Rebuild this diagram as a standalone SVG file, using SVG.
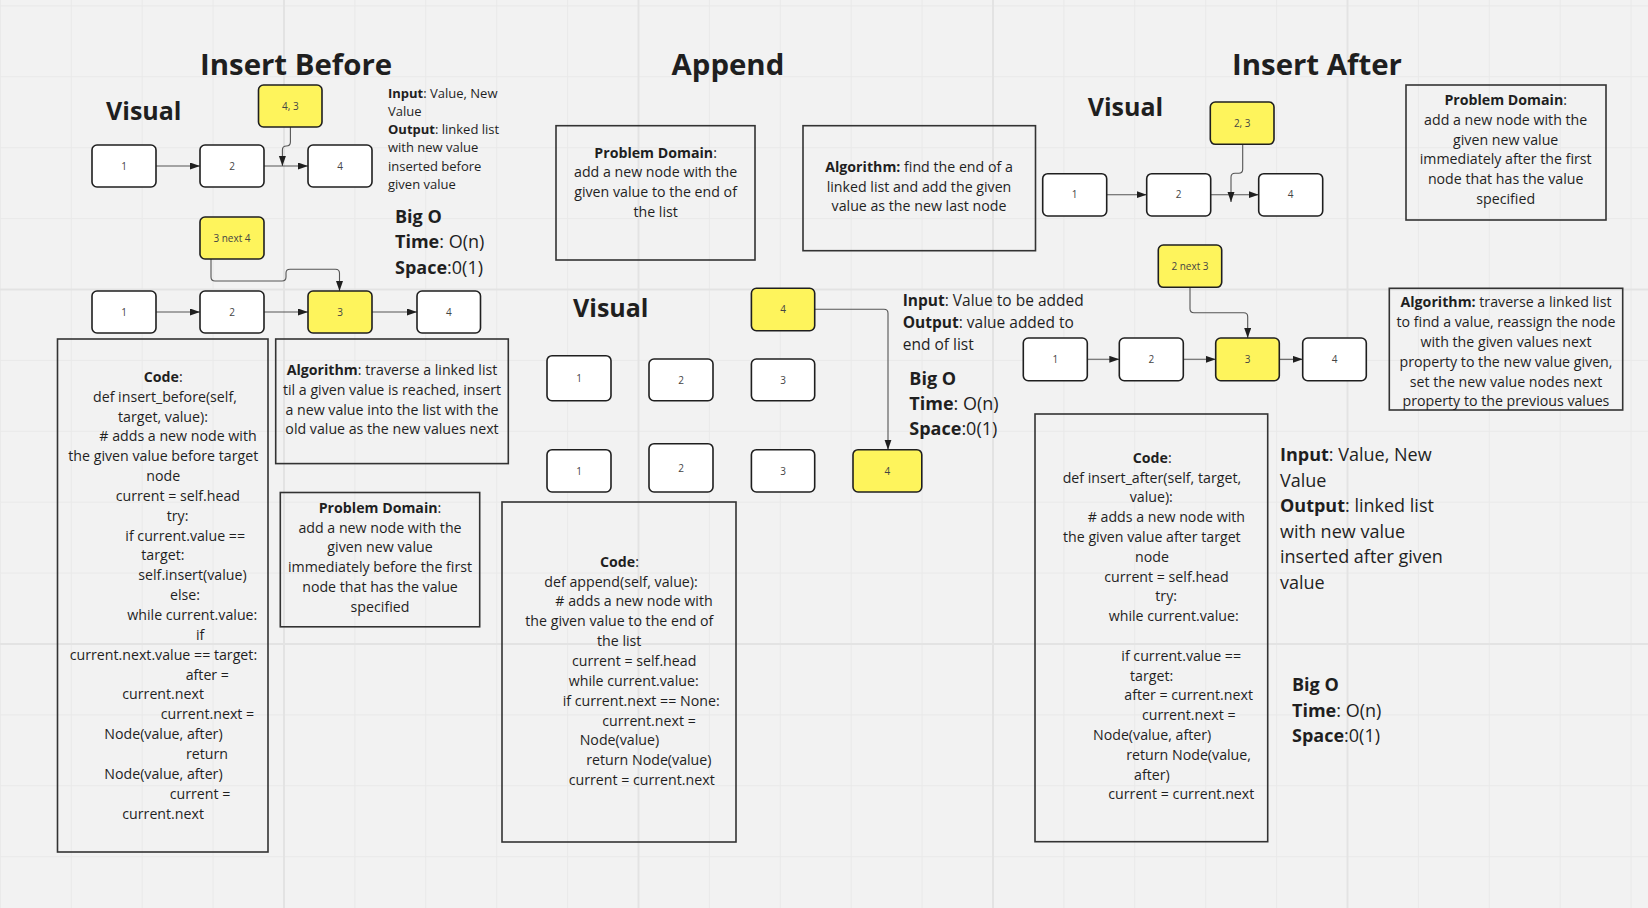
<svg xmlns="http://www.w3.org/2000/svg" width="1648" height="908" viewBox="0 0 1648 908">
<defs>
<style>
text{font-family:"Open Sans","Noto Sans","Liberation Sans",sans-serif;fill:#1f1f1f}
.title{font-size:29.4px;font-weight:700}
.vis{font-size:25px;font-weight:700}
.b{font-weight:700}
.t13{font-size:13px}
.t14{font-size:14.2px}
.t15{font-size:15.5px}
.t18{font-size:18px}
.c{text-anchor:middle}
.lbl{font-size:10px;fill:#444;text-anchor:middle}
.node{fill:#fff;stroke:#1f1f1f;stroke-width:1.6}
.yel{fill:#fef45c;stroke:#1f1f1f;stroke-width:1.6}
.box{fill:none;stroke:#333;stroke-width:1.6}
.con{fill:none;stroke:#555;stroke-width:1.1}
.gmin{fill:none;stroke:#e9e9e9;stroke-width:1}
.gmaj{fill:none;stroke:#e3e3e3;stroke-width:2}
</style>
<marker id="ah" markerUnits="userSpaceOnUse" markerWidth="11" markerHeight="8" refX="10" refY="3.5" orient="auto">
<path d="M0,0 L10,3.5 L0,7 z" fill="#1f1f1f"/>
</marker>
<clipPath id="clipAlgIA"><rect x="1389.3" y="288.3" width="233.4" height="121.7"/></clipPath>
</defs>

<rect x="0" y="0" width="1648" height="908" fill="#f2f2f2"/>
<g id="grid">
<path class="gmin" d="M0.4,0V908M71.3,0V908M142.2,0V908M213.1,0V908M284,0V908M354.9,0V908M425.8,0V908M496.7,0V908M567.6,0V908M638.5,0V908M709.4,0V908M780.3,0V908M851.2,0V908M922.1,0V908M993,0V908M1063.9,0V908M1134.8,0V908M1205.7,0V908M1276.6,0V908M1347.5,0V908M1418.4,0V908M1489.3,0V908M1560.2,0V908M1631.1,0V908M0,5.9H1648M0,76.8H1648M0,147.7H1648M0,218.6H1648M0,289.5H1648M0,360.4H1648M0,431.3H1648M0,502.2H1648M0,573.1H1648M0,644H1648M0,714.9H1648M0,785.8H1648M0,856.7H1648"/>
<path class="gmaj" d="M284,0V908M638.5,0V908M993,0V908M1347.5,0V908M0,289.5H1648M0,644H1648"/>
</g>

<g id="titles">
<text class="title" x="200" y="75">Insert Before</text>
<text class="title" x="671.5" y="75">Append</text>
<text class="title" x="1232" y="75">Insert After</text>
<text class="vis" x="106" y="120">Visual</text>
<text class="vis" x="573" y="317">Visual</text>
<text class="vis" x="1087.7" y="116">Visual</text>
</g>

<g id="connectors">
<path class="con" d="M156,166H200" marker-end="url(#ah)"/>
<path class="con" d="M264,166H308" marker-end="url(#ah)"/>
<path class="con" d="M290.4,127V142Q290.4,146 286.4,146Q282.4,146 282.4,150V166" marker-end="url(#ah)"/>
<path class="con" d="M156,312H200" marker-end="url(#ah)"/>
<path class="con" d="M264,312H308" marker-end="url(#ah)"/>
<path class="con" d="M372,312H417" marker-end="url(#ah)"/>
<path class="con" d="M211,259V277Q211,281 215,281H282Q286,281 286,277V273Q286,269.3 290,269.3H335.5Q339.5,269.3 339.5,273.3V291" marker-end="url(#ah)"/>
<path class="con" d="M814.7,309.3H884Q888,309.3 888,313.3V449.7" marker-end="url(#ah)"/>
<path class="con" d="M1106.7,194.7H1146.7" marker-end="url(#ah)"/>
<path class="con" d="M1210.7,194.7H1258.7" marker-end="url(#ah)"/>
<path class="con" d="M1242.7,144.3V169.3Q1242.7,173.3 1238.7,173.3H1235Q1231,173.3 1231,177.3V202" marker-end="url(#ah)"/>
<path class="con" d="M1087.3,359.3H1119.3" marker-end="url(#ah)"/>
<path class="con" d="M1183.3,359.3H1215.7" marker-end="url(#ah)"/>
<path class="con" d="M1279.3,359.3H1302.7" marker-end="url(#ah)"/>
<path class="con" d="M1190,287.3V308.7Q1190,312.7 1194,312.7H1243.7Q1247.7,312.7 1247.7,316.7V338" marker-end="url(#ah)"/>
</g>

<g id="ib-r1-n1"><rect class="node" x="92" y="145" width="64" height="42" rx="5"/><text class="lbl" x="124" y="169.5">1</text></g>
<g id="ib-r1-n2"><rect class="node" x="200" y="145" width="64" height="42" rx="5"/><text class="lbl" x="232" y="169.5">2</text></g>
<g id="ib-r1-n4"><rect class="node" x="308" y="145" width="64" height="42" rx="5"/><text class="lbl" x="340" y="169.5">4</text></g>
<g id="ib-new"><rect class="yel" x="258.5" y="85" width="63.5" height="42" rx="5"/><text class="lbl" x="290.3" y="109.5">4, 3</text></g>
<g id="ib-r2-n1"><rect class="node" x="92" y="291" width="64" height="42" rx="5"/><text class="lbl" x="124" y="315.5">1</text></g>
<g id="ib-r2-n2"><rect class="node" x="200" y="291" width="64" height="42" rx="5"/><text class="lbl" x="232" y="315.5">2</text></g>
<g id="ib-r2-n3"><rect class="yel" x="308" y="291" width="64" height="42" rx="5"/><text class="lbl" x="340" y="315.5">3</text></g>
<g id="ib-r2-n4"><rect class="node" x="417" y="291" width="63.5" height="42" rx="5"/><text class="lbl" x="448.8" y="315.5">4</text></g>
<g id="ib-next"><rect class="yel" x="200" y="217" width="64" height="42" rx="5"/><text class="lbl" x="232" y="241.5">3 next 4</text></g>

<g id="ib-io">
<text class="t13" x="388" y="97.8"><tspan class="b">Input</tspan>: Value, New</text>
<text class="t13" x="388" y="116">Value</text>
<text class="t13" x="388" y="134.2"><tspan class="b">Output</tspan>: linked list</text>
<text class="t13" x="388" y="152.4">with new value</text>
<text class="t13" x="388" y="170.6">inserted before</text>
<text class="t13" x="388" y="188.8">given value</text>
</g>
<g id="ib-bigo">
<text class="t18 b" x="395" y="222.5">Big O</text>
<text class="t18" x="395" y="248"><tspan class="b">Time</tspan>: O(n)</text>
<text class="t18" x="395" y="273.5"><tspan class="b">Space</tspan>:0(1)</text>
</g>

<g id="ib-code">
<rect class="box" x="57.5" y="339" width="210.5" height="513"/>
<text class="t14" x="143.7" y="381.8"><tspan class="b">Code</tspan>:</text>
<text class="t14" x="93" y="401.6">def insert_before(self,</text>
<text class="t14" x="118" y="421.5">target, value):</text>
<text class="t14" x="99.3" y="441.3"># adds a new node with</text>
<text class="t14" x="68.3" y="461.2">the given value before target</text>
<text class="t14" x="146.3" y="481">node</text>
<text class="t14" x="115.7" y="500.9">current = self.head</text>
<text class="t14" x="166.7" y="520.7">try:</text>
<text class="t14" x="125.3" y="540.6">if current.value ==</text>
<text class="t14" x="141.3" y="560.4">target:</text>
<text class="t14" x="138.3" y="580.3">self.insert(value)</text>
<text class="t14" x="170" y="600.1">else:</text>
<text class="t14" x="127.3" y="620">while current.value:</text>
<text class="t14" x="196" y="639.8">if</text>
<text class="t14" x="69.7" y="659.7">current.next.value == target:</text>
<text class="t14" x="185.7" y="679.5">after =</text>
<text class="t14" x="122.3" y="699.4">current.next</text>
<text class="t14" x="160.7" y="719.2">current.next =</text>
<text class="t14" x="104.3" y="739.1">Node(value, after)</text>
<text class="t14" x="186" y="758.9">return</text>
<text class="t14" x="104.3" y="778.8">Node(value, after)</text>
<text class="t14" x="169.7" y="798.6">current =</text>
<text class="t14" x="122.3" y="818.5">current.next</text>
</g>

<g id="ib-algorithm">
<rect class="box" x="275.7" y="339" width="232.6" height="124.6"/>
<text class="t14 c" x="392" y="375"><tspan class="b">Algorithm</tspan>: traverse a linked list</text>
<text class="t14 c" x="392" y="394.8">til a given value is reached, insert</text>
<text class="t14 c" x="392" y="414.6">a new value into the list with the</text>
<text class="t14 c" x="392" y="434.4">old value as the new values next</text>
</g>

<g id="ib-problem">
<rect class="box" x="280.3" y="492.5" width="199.4" height="134.3"/>
<text class="t14 c" x="380" y="512.7"><tspan class="b">Problem Domain</tspan>:</text>
<text class="t14 c" x="380" y="532.5">add a new node with the</text>
<text class="t14 c" x="380" y="552.3">given new value</text>
<text class="t14 c" x="380" y="572">immediately before the first</text>
<text class="t14 c" x="380" y="591.9">node that has the value</text>
<text class="t14 c" x="380" y="611.7">specified</text>
</g>

<g id="ap-problem">
<rect class="box" x="556" y="125.7" width="199" height="134.3"/>
<text class="t14 c" x="655.6" y="157.5"><tspan class="b">Problem Domain</tspan>:</text>
<text class="t14 c" x="655.6" y="177.3">add a new node with the</text>
<text class="t14 c" x="655.6" y="197.1">given value to the end of</text>
<text class="t14 c" x="655.6" y="216.9">the list</text>
</g>
<g id="ap-algorithm">
<rect class="box" x="803" y="125.7" width="232.5" height="125"/>
<text class="t14 c" x="919" y="171.7"><tspan class="b">Algorithm:</tspan> find the end of a</text>
<text class="t14 c" x="919" y="191.5">linked list and add the given</text>
<text class="t14 c" x="919" y="211.3">value as the new last node</text>
</g>
<g id="ap-new"><rect class="yel" x="751.4" y="288.3" width="63.3" height="42.4" rx="5"/><text class="lbl" x="783" y="313">4</text></g>
<g id="ap-r1-n1"><rect class="node" x="547" y="355.7" width="64" height="45" rx="5"/><text class="lbl" x="579" y="381.5">1</text></g>
<g id="ap-r1-n2"><rect class="node" x="649" y="359" width="64" height="41.7" rx="5"/><text class="lbl" x="681" y="383.5">2</text></g>
<g id="ap-r1-n3"><rect class="node" x="751.4" y="359" width="63.3" height="41.7" rx="5"/><text class="lbl" x="783" y="383.5">3</text></g>
<g id="ap-r2-n1"><rect class="node" x="547" y="449.7" width="64" height="42.3" rx="5"/><text class="lbl" x="579" y="474.5">1</text></g>
<g id="ap-r2-n2"><rect class="node" x="649" y="443.7" width="64" height="48.3" rx="5"/><text class="lbl" x="681" y="471.5">2</text></g>
<g id="ap-r2-n3"><rect class="node" x="751.4" y="449.7" width="63.3" height="42.3" rx="5"/><text class="lbl" x="783" y="474.5">3</text></g>
<g id="ap-r2-n4"><rect class="yel" x="853" y="449.7" width="68.8" height="42.3" rx="5"/><text class="lbl" x="887.4" y="474.5">4</text></g>

<g id="ap-io">
<text class="t15" x="902.7" y="305.5"><tspan class="b">Input</tspan>: Value to be added</text>
<text class="t15" x="902.7" y="327.5"><tspan class="b">Output</tspan>: value added to</text>
<text class="t15" x="902.7" y="349.5">end of list</text>
</g>
<g id="ap-bigo">
<text class="t18 b" x="909.3" y="384.7">Big O</text>
<text class="t18" x="909.3" y="409.7"><tspan class="b">Time</tspan>: O(n)</text>
<text class="t18" x="909.3" y="434.7"><tspan class="b">Space</tspan>:0(1)</text>
</g>
<g id="ap-code">
<rect class="box" x="502" y="502" width="234" height="340"/>
<text class="t14" x="600" y="566.7"><tspan class="b">Code</tspan>:</text>
<text class="t14" x="544.3" y="586.5">def append(self, value):</text>
<text class="t14" x="555.3" y="606.4"># adds a new node with</text>
<text class="t14" x="525.3" y="626.2">the given value to the end of</text>
<text class="t14" x="597" y="646.1">the list</text>
<text class="t14" x="572" y="665.9">current = self.head</text>
<text class="t14" x="568.7" y="685.8">while current.value:</text>
<text class="t14" x="562.7" y="705.6">if current.next == None:</text>
<text class="t14" x="602.3" y="725.5">current.next =</text>
<text class="t14" x="579.7" y="745.3">Node(value)</text>
<text class="t14" x="586.3" y="765.2">return Node(value)</text>
<text class="t14" x="568.7" y="785">current = current.next</text>
</g>

<g id="ia-new"><rect class="yel" x="1210.3" y="102" width="63.7" height="42.3" rx="5"/><text class="lbl" x="1242.2" y="126.7">2, 3</text></g>
<g id="ia-r1-n1"><rect class="node" x="1042.7" y="173.7" width="64" height="42.3" rx="5"/><text class="lbl" x="1074.7" y="198.4">1</text></g>
<g id="ia-r1-n2"><rect class="node" x="1146.7" y="173.7" width="64" height="42.3" rx="5"/><text class="lbl" x="1178.7" y="198.4">2</text></g>
<g id="ia-r1-n4"><rect class="node" x="1258.7" y="173.7" width="64" height="42.3" rx="5"/><text class="lbl" x="1290.7" y="198.4">4</text></g>
<g id="ia-next"><rect class="yel" x="1158.3" y="245" width="63.4" height="42.3" rx="5"/><text class="lbl" x="1190" y="269.7">2 next 3</text></g>
<g id="ia-r2-n1"><rect class="node" x="1023.3" y="338" width="64" height="42.7" rx="5"/><text class="lbl" x="1055.3" y="362.8">1</text></g>
<g id="ia-r2-n2"><rect class="node" x="1119.3" y="338" width="64" height="42.7" rx="5"/><text class="lbl" x="1151.3" y="362.8">2</text></g>
<g id="ia-r2-n3"><rect class="yel" x="1215.7" y="338" width="63.6" height="42.7" rx="5"/><text class="lbl" x="1247.5" y="362.8">3</text></g>
<g id="ia-r2-n4"><rect class="node" x="1302.7" y="338" width="63.6" height="42.7" rx="5"/><text class="lbl" x="1334.5" y="362.8">4</text></g>

<g id="ia-problem">
<rect class="box" x="1406" y="85" width="200" height="135"/>
<text class="t14 c" x="1505.7" y="105"><tspan class="b">Problem Domain</tspan>:</text>
<text class="t14 c" x="1505.7" y="124.8">add a new node with the</text>
<text class="t14 c" x="1505.7" y="144.5">given new value</text>
<text class="t14 c" x="1505.7" y="164.3">immediately after the first</text>
<text class="t14 c" x="1505.7" y="184">node that has the value</text>
<text class="t14 c" x="1505.7" y="203.8">specified</text>
</g>
<g id="ia-algorithm">
<rect class="box" x="1389.3" y="288.3" width="233.4" height="121.7"/>
<g clip-path="url(#clipAlgIA)">
<text class="t14 c" x="1506" y="307.3"><tspan class="b">Algorithm:</tspan> traverse a linked list</text>
<text class="t14 c" x="1506" y="327.1">to find a value, reassign the node</text>
<text class="t14 c" x="1506" y="346.9">with the given values next</text>
<text class="t14 c" x="1506" y="366.7">property to the new value given,</text>
<text class="t14 c" x="1506" y="386.5">set the new value nodes next</text>
<text class="t14 c" x="1506" y="406.3">property to the previous values</text>
</g>
</g>
<g id="ia-code">
<rect class="box" x="1035" y="414" width="232.7" height="427.7"/>
<text class="t14" x="1132.7" y="462.7"><tspan class="b">Code</tspan>:</text>
<text class="t14" x="1062.7" y="482.5">def insert_after(self, target,</text>
<text class="t14" x="1129.7" y="502.3">value):</text>
<text class="t14" x="1087.7" y="522.1"># adds a new node with</text>
<text class="t14" x="1063" y="541.9">the given value after target</text>
<text class="t14" x="1135" y="561.7">node</text>
<text class="t14" x="1104.3" y="581.5">current = self.head</text>
<text class="t14" x="1155.3" y="601.3">try:</text>
<text class="t14" x="1108.7" y="621.1">while current.value:</text>
<text class="t14" x="1121.3" y="660.7">if current.value ==</text>
<text class="t14" x="1130" y="680.5">target:</text>
<text class="t14" x="1124.3" y="700.3">after = current.next</text>
<text class="t14" x="1142" y="720.1">current.next =</text>
<text class="t14" x="1093" y="739.9">Node(value, after)</text>
<text class="t14" x="1126.3" y="759.7">return Node(value,</text>
<text class="t14" x="1134" y="779.5">after)</text>
<text class="t14" x="1108.3" y="799.3">current = current.next</text>
</g>
<g id="ia-io">
<text class="t18" x="1280" y="461"><tspan class="b">Input</tspan>: Value, New</text>
<text class="t18" x="1280" y="486.6">Value</text>
<text class="t18" x="1280" y="512.2"><tspan class="b">Output</tspan>: linked list</text>
<text class="t18" x="1280" y="537.8">with new value</text>
<text class="t18" x="1280" y="563.4">inserted after given</text>
<text class="t18" x="1280" y="589">value</text>
</g>
<g id="ia-bigo">
<text class="t18 b" x="1292" y="691">Big O</text>
<text class="t18" x="1292" y="716.6"><tspan class="b">Time</tspan>: O(n)</text>
<text class="t18" x="1292" y="742.2"><tspan class="b">Space</tspan>:0(1)</text>
</g>
</svg>
